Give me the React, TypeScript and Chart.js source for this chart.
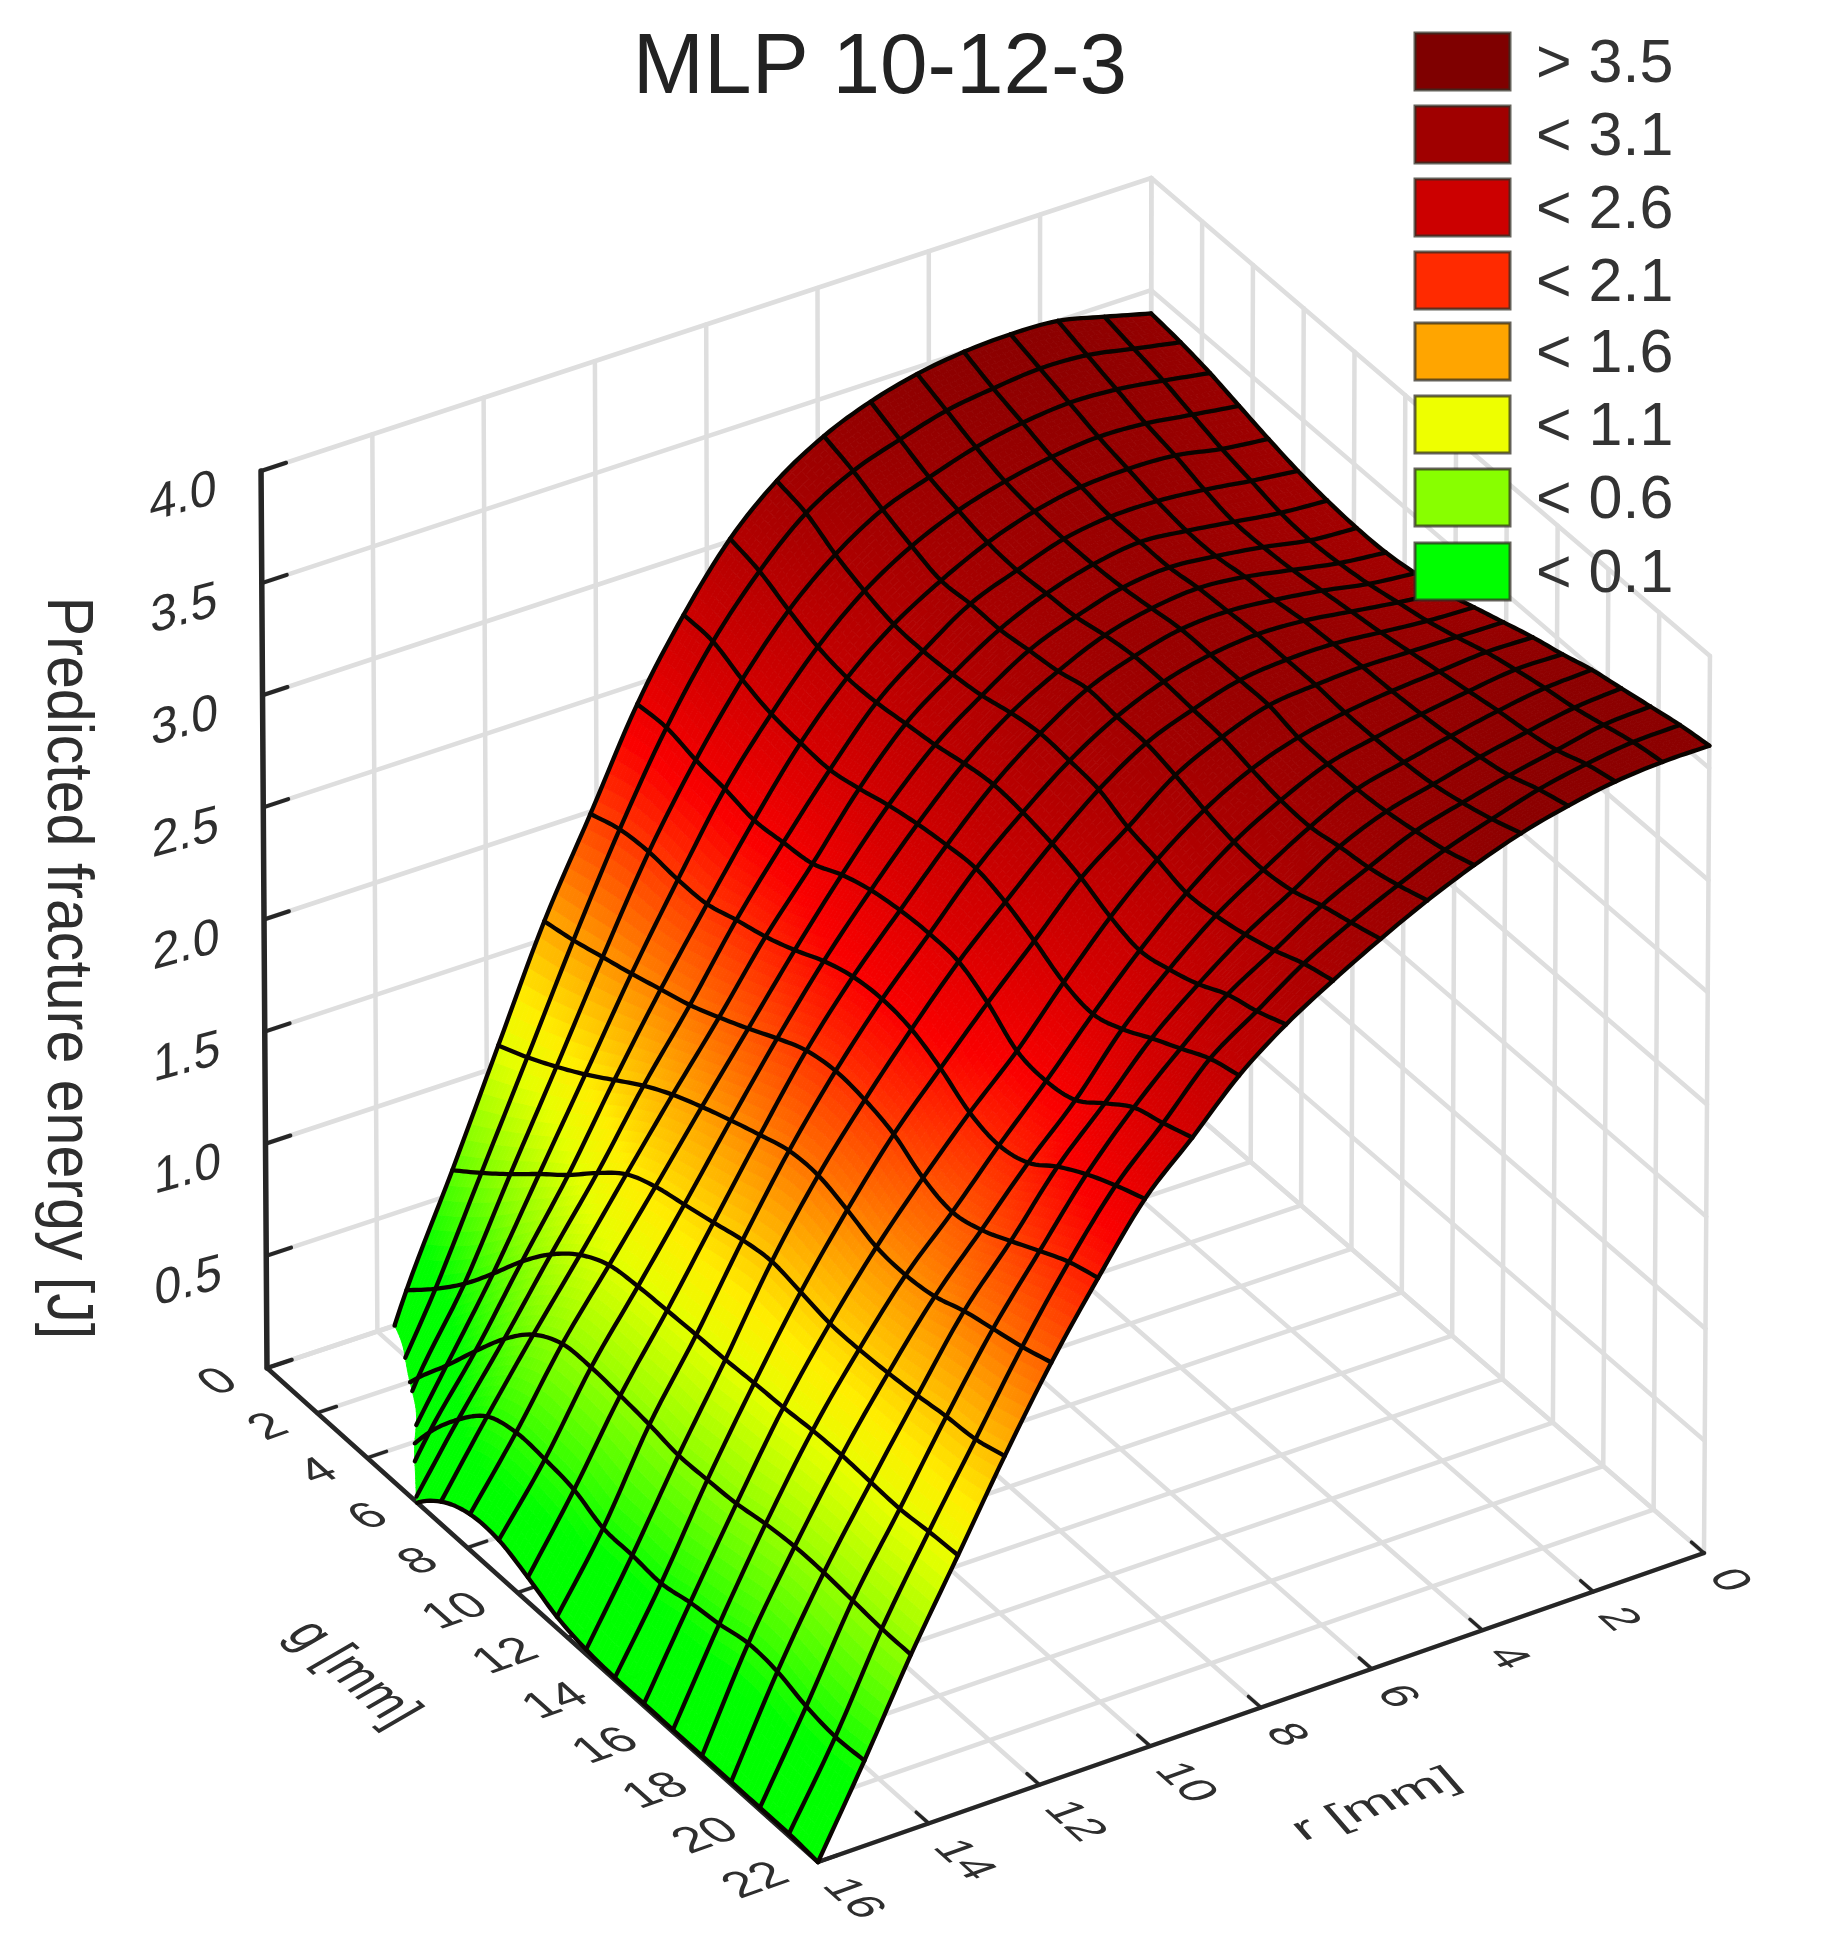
import React, { useEffect, useRef } from "react";
import { Chart, registerables } from "chart.js";

Chart.register(...registerables);

const chartTitle = "MLP 10-12-3";
const zAxisTitle = "Predicted fracture energy [J]";
const gAxisTitle = "g [mm]";
const rAxisTitle = "r [mm]";

const gTicks = [0, 2, 4, 6, 8, 10, 12, 14, 16, 18, 20, 22];
const rTicks = [0, 2, 4, 6, 8, 10, 12, 14, 16];
const zTicks = [0, 0.5, 1, 1.5, 2, 2.5, 3, 3.5, 4];
const zTickLabels = ["0", "0.5", "1.0", "1.5", "2.0", "2.5", "3.0", "3.5", "4.0"];

const legendLabels = ["> 3.5", "< 3.1", "< 2.6", "< 2.1", "< 1.6", "< 1.1", "< 0.6", "< 0.1"];
const legendColors = ["#7f0000", "#a00000", "#cc0000", "#ff2a00", "#ffa500", "#eeff00", "#88ff00", "#00ff00"];

const paletteLevels = [0.3, 0.75, 1.1, 1.3, 1.6, 1.8, 2.1, 2.3, 2.6, 3.1, 3.5];
const paletteColors = [
  [0, 255, 0], [136, 255, 0], [230, 255, 0], [255, 238, 0], [255, 165, 0], [255, 112, 0],
  [255, 42, 0], [250, 0, 0], [216, 0, 0], [172, 0, 0], [140, 0, 0],
];

const gridG = [0, 1.16, 2.32, 3.47, 4.63, 5.79, 6.95, 8.11, 9.26, 10.42, 11.58, 12.74, 13.89, 15.05, 16.21, 17.37, 18.53, 19.68, 20.84, 22];
const gridR = [16, 15.16, 14.32, 13.47, 12.63, 11.79, 10.95, 10.11, 9.26, 8.42, 7.58, 6.74, 5.89, 5.05, 4.21, 3.37, 2.53, 1.68, 0.84, 0];

const zRow00 = [-1.4, -1.1, -0.8, -0.5, -0.25, -0.03, 0.1, 0.16, 0.16, 0.11, 0.05, 0.02, 0.01, 0.01, 0.01, 0.01, 0.01, 0.01, 0.01, 0];
const zRow01 = [-0.9, -0.65, -0.4, -0.12, 0.107, 0.28, 0.41, 0.455, 0.45, 0.43, 0.375, 0.37, 0.36, 0.39, 0.41, 0.44, 0.43, 0.39, 0.37, 0.38];
const zRow02 = [-0.42, -0.15, 0.05, 0.22, 0.4, 0.57, 0.705, 0.78, 0.79, 0.78, 0.766, 0.745, 0.75, 0.76, 0.785, 0.8, 0.8, 0.79, 0.78, 0.78];
const zRow03 = [0.14, 0.262, 0.4, 0.56, 0.73, 0.877, 0.99, 1.06, 1.08, 1.088, 1.095, 1.1, 1.11, 1.117, 1.13, 1.135, 1.13, 1.126, 1.14, 1.15];
const zRow04 = [0.607, 0.71, 0.82, 0.935, 1.046, 1.17, 1.28, 1.34, 1.375, 1.41, 1.447, 1.467, 1.445, 1.42, 1.42, 1.43, 1.445, 1.466, 1.48, 1.52];
const zRow05 = [1.094, 1.157, 1.23, 1.31, 1.4, 1.49, 1.565, 1.626, 1.68, 1.73, 1.775, 1.78, 1.74, 1.69, 1.68, 1.7, 1.75, 1.785, 1.82, 1.865];
const zRow06 = [1.58, 1.61, 1.65, 1.69, 1.735, 1.78, 1.84, 1.905, 1.975, 2.036, 2.06, 2.046, 2.007, 1.927, 1.89, 1.925, 1.99, 2.06, 2.126, 2.17];
const zRow07 = [1.99, 2.036, 2.05, 2.04, 2.046, 2.09, 2.13, 2.185, 2.25, 2.295, 2.31, 2.29, 2.23, 2.147, 2.116, 2.153, 2.25, 2.33, 2.395, 2.45];
const zRow08 = [2.41, 2.42, 2.39, 2.375, 2.35, 2.365, 2.385, 2.45, 2.495, 2.52, 2.53, 2.52, 2.45, 2.35, 2.33, 2.36, 2.46, 2.555, 2.6, 2.65];
const zRow09 = [2.74, 2.735, 2.68, 2.64, 2.625, 2.62, 2.65, 2.69, 2.72, 2.74, 2.75, 2.715, 2.655, 2.585, 2.558, 2.605, 2.678, 2.746, 2.815, 2.855];
const zRow10 = [3.01, 2.98, 2.92, 2.87, 2.846, 2.85, 2.87, 2.89, 2.92, 2.94, 2.93, 2.905, 2.865, 2.805, 2.77, 2.8, 2.848, 2.915, 2.955, 3.01];
const zRow11 = [3.2, 3.17, 3.1, 3.05, 3.015, 3.01, 3.02, 3.04, 3.075, 3.098, 3.09, 3.075, 3.02, 2.99, 2.955, 2.968, 2.998, 3.04, 3.095, 3.133];
const zRow12 = [3.33, 3.288, 3.23, 3.18, 3.14, 3.15, 3.15, 3.17, 3.19, 3.225, 3.215, 3.21, 3.18, 3.14, 3.11, 3.1, 3.12, 3.167, 3.205, 3.245];
const zRow13 = [3.415, 3.36, 3.305, 3.27, 3.24, 3.23, 3.24, 3.25, 3.28, 3.3, 3.3, 3.29, 3.28, 3.25, 3.225, 3.22, 3.245, 3.265, 3.3, 3.345];
const zRow14 = [3.47, 3.42, 3.37, 3.33, 3.31, 3.3, 3.3, 3.31, 3.33, 3.35, 3.35, 3.35, 3.35, 3.32, 3.315, 3.317, 3.33, 3.355, 3.385, 3.43];
const zRow15 = [3.5, 3.45, 3.41, 3.37, 3.35, 3.33, 3.33, 3.33, 3.35, 3.36, 3.37, 3.37, 3.37, 3.36, 3.36, 3.365, 3.38, 3.41, 3.45, 3.5];
const zRow16 = [3.51, 3.47, 3.43, 3.39, 3.36, 3.33, 3.31, 3.31, 3.33, 3.34, 3.36, 3.37, 3.38, 3.385, 3.395, 3.41, 3.43, 3.46, 3.51, 3.55];
const zRow17 = [3.5, 3.46, 3.42, 3.38, 3.35, 3.31, 3.28, 3.28, 3.29, 3.31, 3.33, 3.35, 3.375, 3.4, 3.425, 3.45, 3.47, 3.5, 3.55, 3.585];
const zRow18 = [3.45, 3.42, 3.39, 3.35, 3.31, 3.28, 3.25, 3.24, 3.25, 3.27, 3.3, 3.33, 3.37, 3.415, 3.45, 3.48, 3.505, 3.54, 3.576, 3.6];
const zRow19 = [3.396, 3.38, 3.355, 3.32, 3.285, 3.255, 3.235, 3.225, 3.227, 3.247, 3.275, 3.32, 3.365, 3.41, 3.447, 3.49, 3.52, 3.55, 3.58, 3.6];

const surfaceRows = [zRow00, zRow01, zRow02, zRow03, zRow04, zRow05, zRow06, zRow07, zRow08, zRow09, zRow10, zRow11, zRow12, zRow13, zRow14, zRow15, zRow16, zRow17, zRow18, zRow19];

const W = 1822;
const H = 1936;
const SANS = '"Liberation Sans", Arial, sans-serif';

// Fixed view of the box: floor corners and the height of one z unit.
const cornerL = [267, 1368];
const cornerF = [818, 1862];
const cornerR = [1704, 1553];
const cornerB = [1150, 1075];
const zUnit = 224.25;

function project(g: number, r: number, z: number) {
  const u = g / 22;
  const v = (16 - r) / 16;
  const fx = (1 - u) * (1 - v) * cornerL[0] + u * (1 - v) * cornerF[0] + u * v * cornerR[0] + (1 - u) * v * cornerB[0];
  const fy = (1 - u) * (1 - v) * cornerL[1] + u * (1 - v) * cornerF[1] + u * v * cornerR[1] + (1 - u) * v * cornerB[1];
  return { x: fx + ((fx - 985) * 0.0083 * z) / 4, y: fy - z * zUnit };
}

function colorFor(z: number) {
  if (z <= paletteLevels[0]) return `rgb(${paletteColors[0].join(",")})`;
  for (let k = 1; k < paletteLevels.length; k++) {
    if (z <= paletteLevels[k]) {
      const t = (z - paletteLevels[k - 1]) / (paletteLevels[k] - paletteLevels[k - 1]);
      const a = paletteColors[k - 1];
      const b = paletteColors[k];
      return `rgb(${Math.round(a[0] + (b[0] - a[0]) * t)},${Math.round(a[1] + (b[1] - a[1]) * t)},${Math.round(a[2] + (b[2] - a[2]) * t)})`;
    }
  }
  return `rgb(${paletteColors[paletteColors.length - 1].join(",")})`;
}

// Smooth reading between the grid nodes (Catmull-Rom through the read values).
function cr(a: number, b: number, c: number, d: number, t: number) {
  return b + 0.5 * t * (c - a + t * (2 * a - 5 * b + 4 * c - d + t * (3 * (b - c) + d - a)));
}
const nI = gridG.length;
const nJ = gridR.length;
function at(i: number, j: number): number {
  if (j < 0) return 2 * at(i, 0) - at(i, 1);
  if (j > nJ - 1) return 2 * at(i, nJ - 1) - at(i, nJ - 2);
  if (i < 0) return 2 * surfaceRows[j][0] - surfaceRows[j][1];
  if (i > nI - 1) return 2 * surfaceRows[j][nI - 1] - surfaceRows[j][nI - 2];
  return surfaceRows[j][i];
}
function zSmooth(fi: number, fj: number) {
  const i = Math.min(nI - 2, Math.floor(fi));
  const j = Math.min(nJ - 2, Math.floor(fj));
  const s = fi - i;
  const t = fj - j;
  const v = [-1, 0, 1, 2].map((dj) => cr(at(i - 1, j + dj), at(i, j + dj), at(i + 1, j + dj), at(i + 2, j + dj), s));
  return cr(v[0], v[1], v[2], v[3], t);
}
function coordAt(list: number[], f: number) {
  const k = Math.min(list.length - 2, Math.floor(f));
  return list[k] + (list[k + 1] - list[k]) * (f - k);
}

function line(points: { x: number; y: number }[], color: string, width: number, order: number) {
  return {
    type: "scatter",
    data: points,
    showLine: true,
    pointRadius: 0,
    pointHoverRadius: 0,
    borderColor: color,
    backgroundColor: color,
    borderWidth: width,
    borderCapStyle: "round",
    borderJoinStyle: "round",
    tension: 0,
    fill: false,
    order,
  };
}

const GRID = "#dedede";
const AXIS = "#262626";
const MESH = "#0a0400";

function buildWalls() {
  const out: any[] = [];
  const g = (p: any[]) => out.push(line(p, GRID, 4.5, 3));
  zTicks.forEach((z) => {
    g([project(0, 16, z), project(0, 0, z)]);
    g([project(0, 0, z), project(22, 0, z)]);
  });
  rTicks.forEach((r) => {
    g([project(0, r, 0), project(0, r, 4)]);
    g([project(0, r, 0), project(22, r, 0)]);
  });
  gTicks.forEach((v) => {
    g([project(v, 0, 0), project(v, 0, 4)]);
    g([project(v, 16, 0), project(v, 0, 0)]);
  });
  return out;
}

function buildAxes() {
  const out: any[] = [];
  const a = (p: any[], w: number) => out.push(line(p, AXIS, w, 2));
  a([project(0, 16, 0), project(0, 16, 4)], 5.5);
  a([project(0, 16, 0), project(22, 16, 0)], 4.5);
  a([project(22, 16, 0), project(22, 0, 0)], 4.5);
  zTicks.forEach((z) => a([project(0, 16, z), project(0, 15.55, z)], 4));
  gTicks.forEach((v) => a([project(v, 16, 0), project(v, 15.65, 0)], 3.5));
  rTicks.forEach((r) => a([project(22, r, 0), project(21.5, r, 0)], 3.5));
  return out;
}

function clippedPolyline(nodes: { g: number; r: number; z: number }[]) {
  const pts: { x: number; y: number }[] = [];
  for (let k = 0; k < nodes.length; k++) {
    const n = nodes[k];
    const prev = nodes[k - 1];
    if (prev && prev.z < 0 !== n.z < 0) {
      const t = prev.z / (prev.z - n.z);
      pts.push(project(prev.g + (n.g - prev.g) * t, prev.r + (n.r - prev.r) * t, 0));
    }
    if (n.z >= 0) pts.push(project(n.g, n.r, n.z));
  }
  return pts;
}

const SUB = 8;

function buildMesh() {
  const out: any[] = [];
  for (let j = 0; j < nJ; j++) {
    const nodes: any[] = [];
    for (let f = 0; f <= (nI - 1) * SUB; f++) {
      const fi = f / SUB;
      nodes.push({ g: coordAt(gridG, fi), r: gridR[j], z: zSmooth(fi, j) });
    }
    out.push(line(clippedPolyline(nodes), MESH, 4.3, 1));
  }
  for (let i = 0; i < nI; i++) {
    const nodes: any[] = [];
    for (let f = 0; f <= (nJ - 1) * SUB; f++) {
      const fj = f / SUB;
      nodes.push({ g: gridG[i], r: coordAt(gridR, fj), z: zSmooth(i, fj) });
    }
    out.push(line(clippedPolyline(nodes), MESH, 4.3, 1));
  }
  return out;
}

function clipAboveZero(poly: number[][]) {
  const res: number[][] = [];
  for (let k = 0; k < poly.length; k++) {
    const a = poly[k];
    const b = poly[(k + 1) % poly.length];
    if (a[2] >= 0) res.push(a);
    if (a[2] < 0 !== b[2] < 0) {
      const t = a[2] / (a[2] - b[2]);
      res.push([a[0] + (b[0] - a[0]) * t, a[1] + (b[1] - a[1]) * t, 0]);
    }
  }
  return res;
}

function drawSurface(chart: any) {
  const { ctx, scales } = chart;
  const sx = scales.x;
  const sy = scales.y;
  const cols = (nI - 1) * SUB + 1;
  const rows = (nJ - 1) * SUB + 1;
  const verts: number[][][] = [];
  for (let b = 0; b < rows; b++) {
    const rowV: number[][] = [];
    for (let a = 0; a < cols; a++) {
      const fi = a / SUB;
      const fj = b / SUB;
      rowV.push([coordAt(gridG, fi), coordAt(gridR, fj), zSmooth(fi, fj)]);
    }
    verts.push(rowV);
  }
  ctx.save();
  ctx.lineWidth = 0.9;
  ctx.lineJoin = "round";
  for (let b = 0; b < rows - 1; b++) {
    for (let a = 0; a < cols - 1; a++) {
      const q4 = [verts[b][a], verts[b][a + 1], verts[b + 1][a + 1], verts[b + 1][a]];
      const poly = clipAboveZero(q4);
      if (poly.length < 3) continue;
      const mean = (q4[0][2] + q4[1][2] + q4[2][2] + q4[3][2]) / 4;
      const c = colorFor(mean);
      ctx.fillStyle = c;
      ctx.strokeStyle = c;
      ctx.beginPath();
      poly.forEach((p, idx) => {
        const q = project(p[0], p[1], p[2]);
        const px = sx.getPixelForValue(q.x);
        const py = sy.getPixelForValue(q.y);
        if (idx === 0) ctx.moveTo(px, py);
        else ctx.lineTo(px, py);
      });
      ctx.closePath();
      ctx.fill();
      ctx.stroke();
    }
  }
  ctx.restore();
}

function skewText(ctx: any, text: string, x: number, y: number, m: number[], font: string, align: string, color = "#2e2e2e") {
  ctx.save();
  ctx.transform(m[0], m[1], m[2], m[3], x, y);
  ctx.font = font;
  ctx.fillStyle = color;
  ctx.textAlign = align;
  ctx.textBaseline = "middle";
  ctx.fillText(text, 0, 0);
  ctx.restore();
}

const surfacePlugin = {
  id: "surfacePlugin",
  beforeDatasetsDraw(chart: any) {
    chart.$surfaceDrawn = false;
  },
  beforeDatasetDraw(chart: any, args: any) {
    if (!chart.$surfaceDrawn && chart.data.datasets[args.index].order === 1) {
      chart.$surfaceDrawn = true;
      drawSurface(chart);
    }
  },
};

const labelPlugin = {
  id: "labelPlugin",
  afterDraw(chart: any) {
    const { ctx, scales } = chart;
    const px = (p: { x: number; y: number }) => [scales.x.getPixelForValue(p.x), scales.y.getPixelForValue(p.y)];

    ctx.save();
    ctx.font = `85.5px ${SANS}`;
    ctx.fillStyle = "#222";
    ctx.textAlign = "center";
    ctx.textBaseline = "alphabetic";
    ctx.fillText(chartTitle, 880, 93);
    ctx.restore();

    zTicks.forEach((z, k) => {
      if (k === 0) return;
      const [x, y] = px(project(0, 16, z));
      skewText(ctx, zTickLabels[k], x - 78, y + 27, [1.1, -0.3, 0, 1.15], `44px ${SANS}`, "center");
    });
    gTicks.forEach((g) => {
      const [x, y] = px(project(g, 16, 0));
      skewText(ctx, String(g), x - 35, y + 10, [1.08, -0.38, 0.78, 0.7], `44px ${SANS}`, "right");
    });
    rTicks.forEach((r) => {
      const [x, y] = px(project(22, r, 0));
      skewText(ctx, String(r), x + 15, y + 19, [0.8, 0.72, -1.0, 0.36], `44px ${SANS}`, "left");
    });

    skewText(ctx, zAxisTitle, 66, 968, [0, 0.985, -1.08, 0], `60px ${SANS}`, "center");
    skewText(ctx, gAxisTitle, 352, 1674, [0.7, 0.62, -1.0, 0.58], `50px ${SANS}`, "center");
    skewText(ctx, rAxisTitle, 1376, 1805, [1.13, -0.4, 0.52, 0.6], `50px ${SANS}`, "center");

    const tops = [33, 106, 179, 252, 323, 396, 469, 543];
    legendLabels.forEach((label, k) => {
      ctx.save();
      ctx.fillStyle = legendColors[k];
      ctx.fillRect(1415, tops[k], 95, 57);
      ctx.strokeStyle = "rgba(50,45,35,0.75)";
      ctx.lineWidth = 3;
      ctx.strokeRect(1415, tops[k], 95, 57);
      ctx.font = `61px ${SANS}`;
      ctx.fillStyle = "#333";
      ctx.textAlign = "left";
      ctx.textBaseline = "middle";
      ctx.fillText(label, 1536, tops[k] + 32);
      ctx.restore();
    });
  },
};

export default function App() {
  const ref = useRef<HTMLCanvasElement | null>(null);
  useEffect(() => {
    if (!ref.current) return;
    const chart = new Chart(ref.current, {
      type: "scatter",
      data: { datasets: [...buildWalls(), ...buildAxes(), ...buildMesh()] as any },
      options: {
        animation: false,
        responsive: false,
        devicePixelRatio: 1,
        events: [],
        layout: { padding: 0 },
        plugins: { legend: { display: false }, title: { display: false }, tooltip: { enabled: false } },
        scales: {
          x: { type: "linear", min: 0, max: W, display: false },
          y: { type: "linear", min: 0, max: H, reverse: true, display: false },
        },
      },
      plugins: [surfacePlugin, labelPlugin],
    } as any);
    return () => chart.destroy();
  }, []);
  return (
    <div style={{ position: "absolute", left: 0, top: 0, width: W, height: H, background: "#fff" }}>
      <canvas ref={ref} width={W} height={H} style={{ display: "block", filter: "blur(0.7px)" }} />
    </div>
  );
}
